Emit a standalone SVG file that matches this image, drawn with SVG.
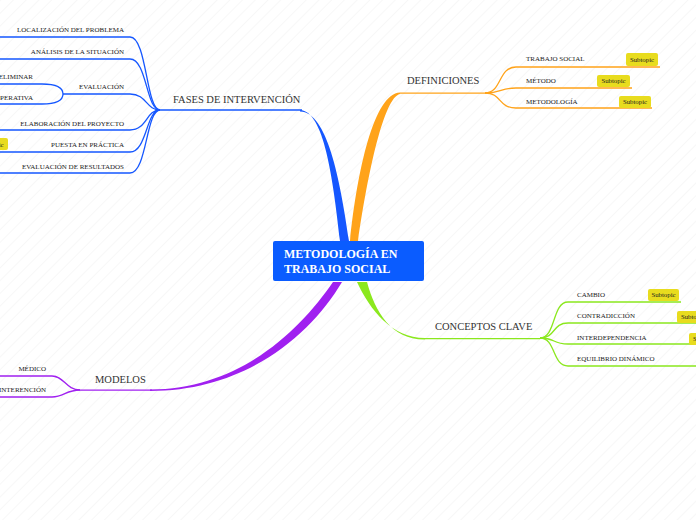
<svg xmlns="http://www.w3.org/2000/svg" width="696" height="520" viewBox="0 0 696 520">
<style>
.leaf{font-family:"Liberation Serif",serif;font-size:7px;fill:#222}
.main{font-family:"Liberation Serif",serif;font-size:10.5px;fill:#333}
.sub{font-family:"Liberation Serif",serif;font-size:6.8px;fill:#222}
.sbox{fill:#e8dc1e}
.b{fill:none;stroke:#1557ff;stroke-width:1.3}
.o{fill:none;stroke:#ffa31a;stroke-width:1.3}
.g{fill:none;stroke:#8be81e;stroke-width:1.3}
.p{fill:none;stroke:#a020f0;stroke-width:1.3}
</style>
<defs>
<pattern id="bg" width="9" height="9" patternUnits="userSpaceOnUse" patternTransform="rotate(45)">
<line x1="0" y1="0" x2="0" y2="9" stroke="#f0f0f0" stroke-width="1"/>
</pattern>
</defs>
<rect width="696" height="520" fill="#fff"/>
<rect width="696" height="520" fill="url(#bg)"/>

<g id="connectors">
<path d="M340,241 C333,178 324,111 300,110 L300,111.5 C327,112 340,178 349,241 Z" fill="#1557ff"/>
<path d="M350,241 C357,172 374,93 400,92.5 L400,94 C384,97 368,172 358,241 Z" fill="#ffa31a"/>
<path d="M357,282 C370,310 392,338 425,338 L425,339.5 C392,340 375,312 367,282 Z" fill="#8be81e"/>
<path d="M333,282 C300,330 240,389.5 150,389.5 L150,391 C245,391 310,336 342,282 Z" fill="#a020f0"/>

<path class="b" d="M160,110 H302"/>
<path class="b" d="M160,110 C146,110 147,37 130,37 H0"/>
<path class="b" d="M160,110 C146,110 147,59 130,59 H0"/>
<path class="b" d="M160,110 C146,110 147,94 130,94 H63"/>
<path class="b" d="M63,94 C63,87 56,84 42,84 H0"/>
<path class="b" d="M63,94 C63,101 56,104 42,104 H0"/>
<path class="b" d="M160,110 C146,110 147,130 130,130 H0"/>
<path class="b" d="M160,110 C146,110 147,152 130,152 H0"/>
<path class="b" d="M160,110 C146,110 147,173 130,173 H0"/>

<path class="o" d="M400,93.2 H485"/>
<path class="o" d="M485,93 C502,93 498,67 516,67 H660"/>
<path class="o" d="M485,93 C502,93 500,88 516,88 H632"/>
<path class="o" d="M485,93 C502,93 498,108 516,108 H652"/>

<path class="g" d="M425,338.7 H540"/>
<path class="g" d="M540,338 C556,338 552,302 568,302 H681"/>
<path class="g" d="M540,338 C556,338 552,323 568,323 H696"/>
<path class="g" d="M540,338 C556,338 552,344 568,344 H696"/>
<path class="g" d="M540,338 C556,338 552,366 568,366 H696"/>

<path class="p" d="M80,390.2 H152"/>
<path class="p" d="M80,390 C66,390 64,376 52,376 H0"/>
<path class="p" d="M80,390 C66,390 64,397 52,397 H0"/>
</g>

<g id="center">
<rect x="273" y="241" width="151" height="40" rx="2" fill="#0a5cff"/>
<text x="284" y="258" font-family="Liberation Serif,serif" font-weight="bold" font-size="12" fill="#fff">METODOLOGÍA EN</text>
<text x="284" y="273" font-family="Liberation Serif,serif" font-weight="bold" font-size="12" fill="#fff">TRABAJO SOCIAL</text>
</g>

<g id="fases">
<text class="main" x="173" y="103">FASES DE INTERVENCIÓN</text>
</g>
<g id="localizacion"><text class="leaf" x="124" y="32" text-anchor="end">LOCALIZACIÓN DEL PROBLEMA</text></g>
<g id="analisis"><text class="leaf" x="124" y="54" text-anchor="end">ANÁLISIS DE LA SITUACIÓN</text></g>
<g id="evaluacion"><text class="leaf" x="124" y="89" text-anchor="end">EVALUACIÓN</text></g>
<g id="eliminar"><text class="leaf" x="33" y="79" text-anchor="end">ELIMINAR</text></g>
<g id="operativa"><text class="leaf" x="33" y="100" text-anchor="end">OPERATIVA</text></g>
<g id="elaboracion"><text class="leaf" x="124" y="126" text-anchor="end">ELABORACIÓN DEL PROYECTO</text></g>
<g id="puesta">
<text class="leaf" x="124" y="147" text-anchor="end">PUESTA EN PRÁCTICA</text>
<rect class="sbox" x="-25" y="138" width="33" height="12" rx="2"/>
<text class="sub" x="-8.5" y="146.5" text-anchor="middle">Subtopic</text>
</g>
<g id="resultados"><text class="leaf" x="124" y="169" text-anchor="end">EVALUACIÓN DE RESULTADOS</text></g>

<g id="definiciones"><text class="main" x="407" y="84">DEFINICIONES</text></g>
<g id="trabajo">
<text class="leaf" x="526" y="61">TRABAJO SOCIAL</text>
<rect class="sbox" x="626" y="53" width="32" height="13" rx="2"/>
<text class="sub" x="642" y="61.5" text-anchor="middle">Subtopic</text>
</g>
<g id="metodo">
<text class="leaf" x="526" y="83">MÉTODO</text>
<rect class="sbox" x="597" y="75" width="33" height="12" rx="2"/>
<text class="sub" x="613.5" y="83" text-anchor="middle">Subtopic</text>
</g>
<g id="metodologia">
<text class="leaf" x="526" y="104">METODOLOGÍA</text>
<rect class="sbox" x="619" y="96" width="32" height="12" rx="2"/>
<text class="sub" x="635" y="104" text-anchor="middle">Subtopic</text>
</g>

<g id="conceptos"><text class="main" x="435" y="330">CONCEPTOS CLAVE</text></g>
<g id="cambio">
<text class="leaf" x="577" y="297">CAMBIO</text>
<rect class="sbox" x="648" y="289" width="31" height="12" rx="2"/>
<text class="sub" x="663.5" y="297" text-anchor="middle">Subtopic</text>
</g>
<g id="contradiccion">
<text class="leaf" x="577" y="318">CONTRADICCIÓN</text>
<rect class="sbox" x="677" y="311" width="32" height="12" rx="2"/>
<text class="sub" x="693" y="319" text-anchor="middle">Subtopic</text>
</g>
<g id="interdependencia">
<text class="leaf" x="577" y="340">INTERDEPENDENCIA</text>
<rect class="sbox" x="689" y="333" width="32" height="12" rx="2"/>
<text class="sub" x="705" y="341" text-anchor="middle">Subtopic</text>
</g>
<g id="equilibrio"><text class="leaf" x="577" y="361">EQUILIBRIO DINÁMICO</text></g>

<g id="modelos"><text class="main" x="95" y="383">MODELOS</text></g>
<g id="medico"><text class="leaf" x="46" y="371" text-anchor="end">MÉDICO</text></g>
<g id="intervencion"><text class="leaf" x="46" y="392" text-anchor="end">INTERENCIÓN</text></g>
</svg>
